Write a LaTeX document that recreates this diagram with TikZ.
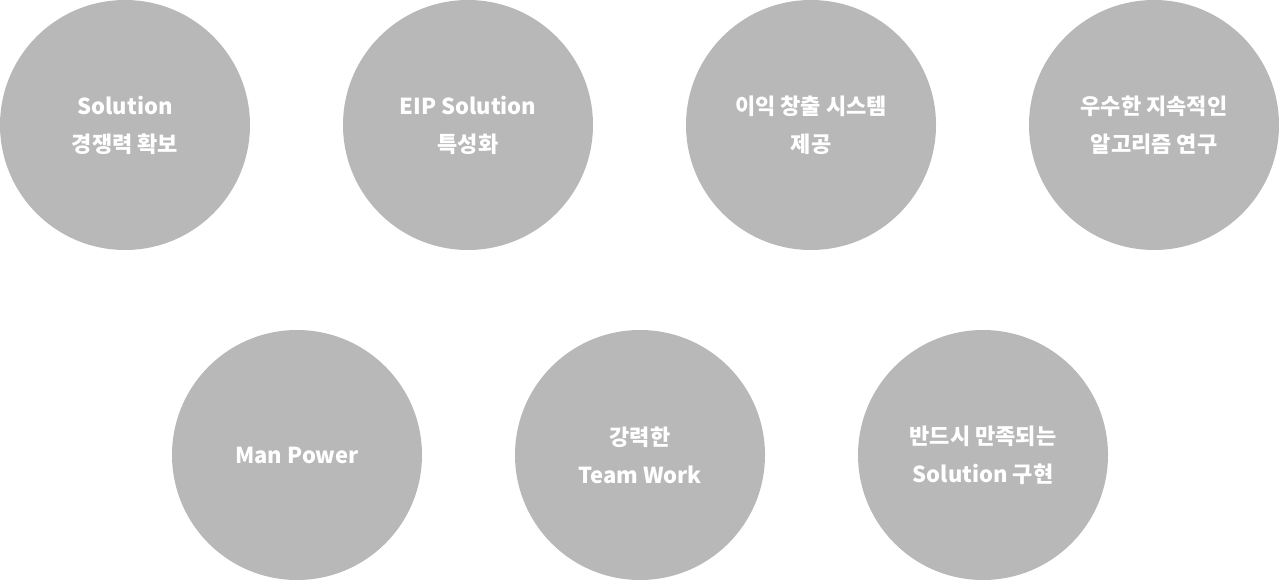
\documentclass[tikz,border=0pt]{standalone}
\usepackage{fontspec}
\newfontfamily\kr{Noto Sans CJK KR}
\begin{document}
\begin{tikzpicture}[x=1pt, y=-1pt,
    goal/.style={circle, fill=black!28, inner sep=0pt, minimum size=250pt,
      align=center, text=white, font=\kr\bfseries\fontsize{22}{38}\selectfont}]
      \useasboundingbox (0, 0) rectangle (1279, 580);
      \node[goal] (g1) at (125, 125) {Solution\\경쟁력 확보};
      \node[goal] (g2) at (468, 125) {EIP Solution\\특성화};
      \node[goal] (g3) at (811, 125) {이익 창출 시스템\\제공};
      \node[goal] (g4) at (1154, 125) {우수한 지속적인\\알고리즘 연구};
      \node[goal] (g5) at (297, 455) {Man Power};
      \node[goal] (g6) at (640, 455) {강력한\\Team Work};
      \node[goal] (g7) at (983, 455) {반드시 만족되는\\Solution 구현};
    \end{tikzpicture}
\end{document}
